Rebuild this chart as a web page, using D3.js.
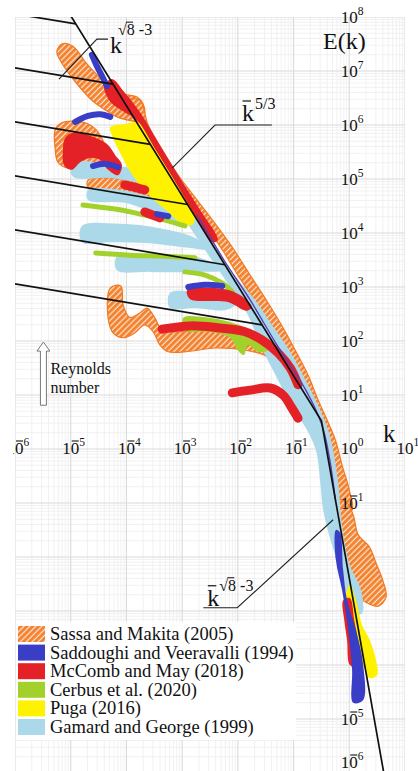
<!DOCTYPE html>
<html>
<head>
<meta charset="utf-8">
<script src="https://cdn.jsdelivr.net/npm/d3@7"></script>
<style>
  body { margin: 0; background: #fff; }
  svg, svg text { font-family: "Liberation Serif", "DejaVu Serif", "Times New Roman", serif; }
  svg { display: block; }
</style>
</head>
<body>
<svg id="chart" width="418" height="771" font-family="Liberation Serif, DejaVu Serif, serif"></svg>
<script>
// all values in decades: [log10 k, log10 E(k)]

// Sassa and Makita (2005)
const sassaTop = [[-5.25,7.35],[-5.16,7.50],[-4.96,7.46],[-4.71,7.13],[-4.47,6.87],[-4.26,6.69],[-4.03,6.57],[-3.81,6.52],[-3.70,6.39],[-3.68,6.19],[-3.81,6.07],[-3.97,6.09],[-4.17,6.15],[-4.38,6.28],[-4.60,6.44],[-4.83,6.69],[-5.05,6.98],[-5.19,7.20]];
const sassaLeft = [[-5.28,5.91],[-5.16,6.04],[-4.92,6.07],[-4.65,6.00],[-4.47,5.81],[-4.38,5.54],[-4.47,5.31],[-4.74,5.22],[-5.05,5.20],[-5.23,5.31],[-5.28,5.57]];
const sassaStrip = [[-4.69,4.98],[-4.29,5.02],[-3.85,4.94],[-3.58,4.80],[-3.40,4.52],[-3.43,4.28],[-3.58,4.33],[-3.76,4.61],[-4.03,4.76],[-4.47,4.80],[-4.69,4.85]];
const sassaBand = [[-3.76,6.46],[-3.61,6.00],[-3.36,5.54],[-3.07,5.07],[-2.73,4.61],[-2.39,4.15],[-2.07,3.69],[-1.78,3.22],[-1.49,2.76],[-1.22,2.30],[-0.97,1.83],[-0.74,1.37],[-0.56,0.91],[-0.40,0.54],[-0.25,0.17],[-0.13,-0.30],[0.00,-0.76],[0.05,-1.13],
  [-0.19,-1.13],[-0.24,-0.76],[-0.31,-0.30],[-0.40,0.17],[-0.49,0.54],[-0.65,0.91],[-0.88,1.37],[-1.15,1.83],[-1.42,2.30],[-1.71,2.76],[-2.00,3.22],[-2.28,3.69],[-2.59,4.15],[-2.89,4.61],[-3.18,5.07],[-3.47,5.54],[-3.76,6.00],[-3.97,6.46]];
const sassaTail = [[-0.24,-0.94],[-0.06,-0.98],[0.07,-1.22],[0.16,-1.59],[0.36,-1.81],[0.48,-2.11],[0.61,-2.46],[0.66,-2.74],[0.52,-2.91],[0.25,-2.81],[0.03,-2.61],[-0.09,-2.24],[-0.18,-1.78],[-0.24,-1.31]];
const sassaWave = [[-4.29,2.98],[-4.10,3.02],[-4.06,2.67],[-3.94,2.44],[-3.76,2.52],[-3.63,2.61],[-3.49,2.43],[-3.36,2.20],[-3.13,2.17],[-2.68,2.20],[-2.14,2.20],[-1.69,2.15],[-1.33,2.02],[-1.06,1.74],[-0.92,1.37],[-1.03,1.19],[-1.24,1.46],[-1.49,1.72],[-1.87,1.83],[-2.41,1.87],[-2.86,1.81],[-3.25,1.80],[-3.40,1.93],[-3.52,2.17],[-3.67,2.30],[-3.85,2.15],[-4.06,2.06],[-4.24,2.15],[-4.33,2.43]];

// Puga (2016)
const pugaUpper = [[-4.29,5.96],[-4.03,6.02],[-3.76,6.04],[-3.58,5.72],[-3.36,5.35],[-3.13,4.98],[-2.89,4.61],[-2.77,4.33],[-2.82,4.15],[-3.04,4.20],[-3.25,4.39],[-3.54,4.65],[-3.76,4.89],[-3.97,5.20],[-4.12,5.50],[-4.24,5.76]];
const pugaTail = [[0.01,-2.52],[0.12,-2.80],[0.23,-3.26],[0.37,-3.54],[0.48,-3.91],[0.50,-4.19],[0.36,-4.24],[0.23,-3.94],[0.12,-3.54],[0.01,-3.07],[-0.06,-2.70]];

// Gamard and George (1999)
const gamardA = [[-4.98,5.31],[-4.29,5.26],[-3.58,5.13],[-2.95,4.89],[-2.95,4.70],[-3.58,4.89],[-4.29,5.02],[-4.96,5.04]];
const gamardB = [[-4.69,4.80],[-4.12,4.80],[-3.58,4.67],[-2.95,4.43],[-2.86,4.15],[-3.40,4.33],[-4.03,4.56],[-4.69,4.61]];
const gamardC = [[-4.80,4.13],[-4.12,4.17],[-3.40,4.09],[-2.77,3.91],[-2.50,3.69],[-2.86,3.72],[-3.58,3.81],[-4.29,3.83],[-4.80,3.83]];
const gamardD = [[-4.17,3.57],[-3.40,3.57],[-2.68,3.54],[-2.28,3.31],[-2.68,3.28],[-3.58,3.28],[-4.17,3.31]];
const gamardE = [[-3.22,2.89],[-2.68,2.89],[-2.28,2.80],[-2.05,2.67],[-2.23,2.57],[-2.77,2.61],[-3.22,2.61]];
const gamardMain = [[-3.40,4.94],[-3.04,4.39],[-2.71,3.87],[-2.41,3.41],[-2.10,2.94],[-1.82,2.48],[-1.60,1.93],[-1.28,1.28],[-1.03,0.78],[-0.78,0.39],[-0.60,-0.02],[-0.52,-0.63],[-0.47,-1.13],[-0.31,-1.78],[-0.11,-2.43],[0.05,-3.04],
  [0.23,-3.04],[0.21,-2.61],[0.01,-2.15],[-0.13,-1.41],[-0.20,-0.63],[-0.29,-0.02],[-0.38,0.35],[-0.56,0.81],[-0.76,1.22],[-1.06,1.80],[-1.39,2.30],[-1.69,2.76],[-2.07,3.22],[-2.37,3.69],[-2.66,4.15],[-2.93,4.61],[-3.13,4.89]];

// Cerbus et al. (2020)
const cerbusA = [[-4.78,4.52],[-4.12,4.43],[-3.67,4.33],[-3.31,4.24],[-2.95,4.13]];
const cerbusB = [[-4.55,3.63],[-3.94,3.59],[-3.31,3.57],[-2.77,3.54]];
const cerbusC = [[-2.95,3.28],[-2.59,3.22],[-2.28,3.07],[-2.10,2.91]];
const cerbusD = [[-2.98,2.43],[-2.59,2.44],[-2.14,2.35],[-1.78,2.20],[-1.57,2.02],[-1.46,1.83],[-1.64,1.80],[-1.82,1.93],[-1.89,1.74],[-2.00,1.83],[-2.14,2.06],[-2.50,2.17],[-2.95,2.20]];

// McComb and May (2018)
const mccombTop = [[-4.40,6.72],[-4.26,6.85],[-4.04,6.61],[-3.76,6.24],[-3.40,5.63],[-3.04,5.02],[-2.68,4.43],[-2.36,3.87],[-2.46,3.83],[-2.77,4.33],[-3.09,4.89],[-3.45,5.50],[-3.81,6.09],[-4.04,6.24],[-4.29,6.43]];
const mccombLeft = [[-5.10,5.76],[-4.92,5.87],[-4.65,5.80],[-4.47,5.72],[-4.33,5.63],[-4.20,5.44],[-4.08,5.26],[-4.15,5.07],[-4.33,5.17],[-4.47,5.35],[-4.65,5.39],[-4.83,5.31],[-4.98,5.17],[-5.12,5.26],[-5.14,5.54]];
const mccombMid = [[-2.91,2.94],[-2.23,2.96],[-1.96,2.85],[-1.75,2.63],[-1.85,2.56],[-2.18,2.72],[-2.86,2.78]];
const mccombTail = [[-0.11,-2.80],[0.01,-2.76],[0.09,-3.17],[0.16,-3.63],[0.14,-4.04],[0.01,-4.00],[-0.04,-3.54],[-0.09,-3.17]];
const mccombA = [[-4.03,4.89],[-3.67,4.80]];
const mccombB = [[-3.67,4.39],[-3.40,4.28]];
const mccombC = [[-3.36,2.22],[-2.86,2.28],[-2.32,2.24],[-1.87,2.17],[-1.57,2.02],[-1.28,1.78],[-1.06,1.50],[-0.92,1.19]];
const mccombD = [[-2.10,1.04],[-1.78,1.09],[-1.42,1.13],[-1.19,1.00],[-1.03,0.76],[-0.92,0.57]];

// Saddoughi and Veeravalli (1994)
const saddA = [[-4.62,7.30],[-4.53,7.09],[-4.42,6.87],[-4.35,6.72]];
const saddB = [[-4.92,6.06],[-4.69,6.17],[-4.47,6.20],[-4.29,6.15]];
const saddC = [[-4.60,5.24],[-4.38,5.28],[-4.15,5.22]];
const saddD = [[-3.45,4.35],[-3.25,4.31]];
const saddE = [[-2.89,3.00],[-2.59,3.04],[-2.28,3.02]];
const saddTail = [[-0.24,-1.50],[-0.17,-1.54],[-0.11,-2.24],[-0.04,-2.80],[0.12,-3.35],[0.25,-4.00],[0.25,-4.65],[0.07,-4.70],[0.05,-4.09],[-0.02,-3.35],[-0.13,-2.61],[-0.24,-2.06]];
const saddThin = [[-2.73,4.33],[-2.25,3.50],[-1.78,2.76],[-1.30,1.93],[-0.78,1.09],[-0.49,0.44],[-0.35,-0.20],[-0.25,-0.94]];

// model power laws
const shallowExp = Math.sqrt(8) - 3;
const inertialExp = -5 / 3;
const steepExp = -(Math.sqrt(8) + 3);
const inertialLogC = -0.31;
const steepLogC = -2.39;
const shallowStart = [7, 6, 5, 4, 3, 2, 1]; // log10 E at k = 1e-6

const kTicks = [-6, -5, -4, -3, -2, -1, 0, 1];
const eTicks = [8, 7, 6, 5, 4, 3, 2, 1, -1, -5, -6];

const legendNames = ["Sassa and Makita (2005)", "Saddoughi and Veeravalli (1994)", "McComb and May (2018)",
  "Cerbus et al. (2020)", "Puga (2016)", "Gamard and George (1999)"];

// leaders and arrow, in decades
const leaderTop = [[-5.21,6.85],[-4.53,7.59],[-4.33,7.59]];
const leaderMid = [[-3.18,5.20],[-2.41,6.00],[-1.39,6.00]];
const leaderLow = [[-0.29,-1.31],[-2.01,-2.94],[-2.62,-2.94]];
const reArrow = [[-5.49,0.81],[-5.49,1.98]];

const W = 418, H = 771;
const FONT = "Liberation Serif, DejaVu Serif, serif";
const svg = d3.select("#chart");
const x = d3.scaleLog().domain([1e-6, 1e1]).range([15, 405]);
const y = d3.scaleLog().domain([1e8, 1e-6]).range([17, 773]);
const px = d => x(10 ** d[0]);
const py = d => y(10 ** d[1]);

const defs = svg.append("defs");
defs.append("clipPath").attr("id", "plot").append("rect")
  .attr("x", 15).attr("y", 17).attr("width", 390).attr("height", H - 17);
defs.append("clipPath").attr("id", "page").append("rect")
  .attr("x", 13).attr("y", 0).attr("width", W - 13).attr("height", H);
const hatch = defs.append("pattern").attr("id", "hatch")
  .attr("patternUnits", "userSpaceOnUse").attr("width", 4.2).attr("height", 4.2)
  .attr("patternTransform", "rotate(45)");
hatch.append("rect").attr("width", 4.2).attr("height", 4.2).attr("fill", "#f3822f");
hatch.append("line").attr("x1", 2).attr("y1", 0).attr("x2", 2).attr("y2", 4.2)
  .attr("stroke", "#fde6d4").attr("stroke-width", 1.2);

// grid
const grid = svg.append("g").attr("clip-path", "url(#plot)");
const kMinor = d3.range(-6, 1).flatMap(e => d3.range(2, 10).map(m => m * 10 ** e));
const eMinor = d3.range(-6, 8).flatMap(e => d3.range(2, 10).map(m => m * 10 ** e));
grid.selectAll(".vmin").data(kMinor).join("line")
  .attr("x1", x).attr("x2", x).attr("y1", 17).attr("y2", H)
  .attr("stroke", "#eeeeee").attr("stroke-width", 0.8);
grid.selectAll(".hmin").data(eMinor).join("line")
  .attr("y1", y).attr("y2", y).attr("x1", 15).attr("x2", 405)
  .attr("stroke", "#eeeeee").attr("stroke-width", 0.8);
grid.selectAll(".vmaj").data(kTicks).join("line")
  .attr("x1", d => x(10 ** d)).attr("x2", d => x(10 ** d)).attr("y1", 17).attr("y2", H)
  .attr("stroke", "#dadada").attr("stroke-width", 1.1);
grid.selectAll(".hmaj").data(d3.range(-6, 9)).join("line")
  .attr("y1", d => y(10 ** d)).attr("y2", d => y(10 ** d)).attr("x1", 15).attr("x2", 405)
  .attr("stroke", "#dadada").attr("stroke-width", 1.1);

// tick labels: "10" centred on the grid line, exponent raised after it
function power(g, cx, base, e) {
  g.append("text").attr("x", cx).attr("y", base).attr("text-anchor", "middle")
    .attr("font-family", FONT).attr("font-size", 17).attr("fill", "#111").text("10");
  g.append("text").attr("x", cx + 8.5).attr("y", base - 8)
    .attr("font-family", FONT).attr("font-size", 11.5).attr("fill", "#111").text(Math.abs(e));
  if (e < 0) {
    g.append("line").attr("x1", cx + 1).attr("x2", cx + 8).attr("y1", base - 13).attr("y2", base - 13)
      .attr("stroke", "#111").attr("stroke-width", 1.1);
  }
}
const kLabels = svg.append("g").attr("clip-path", "url(#page)");
kTicks.forEach(e => power(kLabels, x(10 ** e), y(1) + 5, e));

// data
const closed = d3.line().x(px).y(py).curve(d3.curveCatmullRomClosed.alpha(0.5));
const open = d3.line().x(px).y(py).curve(d3.curveCatmullRom.alpha(0.5));

const series = [
  { name: legendNames[0], fill: "url(#hatch)", stroke: "#f07a24",
    areas: [sassaTop, sassaLeft, sassaStrip, sassaBand, sassaTail, sassaWave], curves: [] },
  { name: legendNames[5], fill: "#acd9ea", areas: [gamardA, gamardB, gamardC, gamardD, gamardE, gamardMain], curves: [] },
  { name: legendNames[4], fill: "#fff200", areas: [pugaUpper, pugaTail], curves: [] },
  { name: legendNames[3], fill: "#a3d12c", areas: [cerbusD], curves: [cerbusA, cerbusB, cerbusC], width: 5 },
  { name: legendNames[2], fill: "#e52128", areas: [mccombTop, mccombLeft, mccombMid, mccombTail],
    curves: [mccombA, mccombB, mccombC, mccombD], width: 9 },
  { name: legendNames[1], fill: "#3a3dc6", areas: [saddTail], curves: [saddA, saddB, saddC, saddD, saddE], width: 6 }
];

const data = svg.append("g").attr("clip-path", "url(#plot)");
series.forEach(s => {
  const g = data.append("g");
  g.selectAll("path.area").data(s.areas).join("path").attr("class", "area")
    .attr("d", closed).attr("fill", s.fill)
    .attr("stroke", s.stroke || "none").attr("stroke-width", 1.2);
  g.selectAll("path.curve").data(s.curves).join("path").attr("class", "curve")
    .attr("d", open).attr("fill", "none").attr("stroke", s.fill)
    .attr("stroke-width", s.width).attr("stroke-linecap", "round").attr("stroke-linejoin", "round");
});
data.append("path").datum(saddThin).attr("d", open).attr("fill", "none")
  .attr("stroke", "#5a3fb0").attr("stroke-width", 1.4);

// E(k) labels sit on top of the data
const eLabels = svg.append("g");
eTicks.forEach(e => power(eLabels, x(1), Math.min(y(10 ** e) + 6, 768), e));

// power-law lines
const lines = svg.append("g").attr("clip-path", "url(#plot)");
const kink = (steepLogC - inertialLogC) / (inertialExp - steepExp);
const mainLine = [
  [(inertialLogC - 8.2) / -inertialExp, 8.2],
  [kink, inertialLogC + inertialExp * kink],
  [(steepLogC + 6.2) / -steepExp, -6.2]
];
const straight = d3.line().x(px).y(py);
lines.append("path").attr("d", straight(mainLine))
  .attr("fill", "none").attr("stroke", "#111").attr("stroke-width", 1.7);
shallowStart.forEach(c => {
  const c0 = c - 6 * shallowExp;
  let lk = (inertialLogC - c0) / (shallowExp - inertialExp);
  if (lk > kink) lk = (steepLogC - c0) / (shallowExp - steepExp);
  lines.append("path").attr("d", straight([[-6.1, c0 + shallowExp * -6.1], [lk, c0 + shallowExp * lk]]))
    .attr("fill", "none").attr("stroke", "#111").attr("stroke-width", 1.7);
});

// annotations
const notes = svg.append("g").attr("fill", "#111").attr("font-family", FONT);
[leaderTop, leaderMid, leaderLow].forEach(l => {
  notes.append("path").attr("d", straight(l)).attr("fill", "none")
    .attr("stroke", "#222").attr("stroke-width", 1.1);
});
function kLabel(kx, kb, sx, sb, parts, bar) {
  notes.append("text").attr("x", kx).attr("y", kb).attr("font-size", 24).text("k");
  const t = notes.append("text").attr("x", sx).attr("y", sb).attr("font-size", 16);
  parts.forEach(p => t.append("tspan").attr("dx", p.dx || 0).text(p.t));
  if (bar) notes.append("line").attr("x1", kx + 0.5).attr("x2", kx + 9).attr("y1", kb - 20).attr("y2", kb - 20)
    .attr("stroke", "#111").attr("stroke-width", 1.2);
}
const lt = [px(leaderTop[2]), py(leaderTop[2])];
kLabel(lt[0] + 2, lt[1] + 14, lt[0] + 10, lt[1] - 4, [{ t: "√8" }, { t: "-3", dx: 4 }], false);
notes.append("line").attr("x1", lt[0] + 18).attr("x2", lt[0] + 25).attr("y1", lt[1] - 17).attr("y2", lt[1] - 17)
  .attr("stroke", "#111").attr("stroke-width", 1);
const lm = [px(leaderMid[1]), py(leaderMid[1])];
kLabel(lm[0] + 27, lm[1] - 4, lm[0] + 40, lm[1] - 16, [{ t: "5/3" }], true);
const ll = [px(leaderLow[2]), py(leaderLow[2])];
kLabel(ll[0] + 4, ll[1] - 2, ll[0] + 16, ll[1] - 17, [{ t: "√8" }, { t: "-3", dx: 4 }], true);
notes.append("line").attr("x1", ll[0] + 24).attr("x2", ll[0] + 31).attr("y1", ll[1] - 30).attr("y2", ll[1] - 30)
  .attr("stroke", "#111").attr("stroke-width", 1);

// Reynolds arrow
const ax = px(reArrow[0]), ab = py(reArrow[0]), at = py(reArrow[1]);
notes.append("path")
  .attr("d", `M${ax - 3},${ab} L${ax - 3},${at + 9} L${ax - 6.5},${at + 9} L${ax},${at} L${ax + 6.5},${at + 9} L${ax + 3},${at + 9} L${ax + 3},${ab} Z`)
  .attr("fill", "#fff").attr("stroke", "#777").attr("stroke-width", 1);
notes.append("text").attr("x", ax + 7).attr("y", at + 32).attr("font-size", 16).text("Reynolds");
notes.append("text").attr("x", ax + 7).attr("y", at + 51).attr("font-size", 16).text("number");

// axis titles
notes.append("text").attr("x", 323).attr("y", 49).attr("font-size", 24).text("E(k)");
notes.append("text").attr("x", 383).attr("y", 442).attr("font-size", 25).text("k");

// legend
const legend = svg.append("g").attr("font-family", FONT);
legend.append("rect").attr("x", 16).attr("y", 622).attr("width", 280).attr("height", 118).attr("fill", "#fff");
const legendFill = {};
series.forEach(s => legendFill[s.name] = s.fill);
legendNames.forEach((n, i) => {
  const b = 640 + i * 18.6;
  legend.append("rect").attr("x", 18).attr("y", b - 14).attr("width", 27).attr("height", 16)
    .attr("fill", legendFill[n]);
  legend.append("text").attr("x", 50).attr("y", b).attr("font-size", 18.5).attr("fill", "#111").text(n);
});
</script>
</body>
</html>
